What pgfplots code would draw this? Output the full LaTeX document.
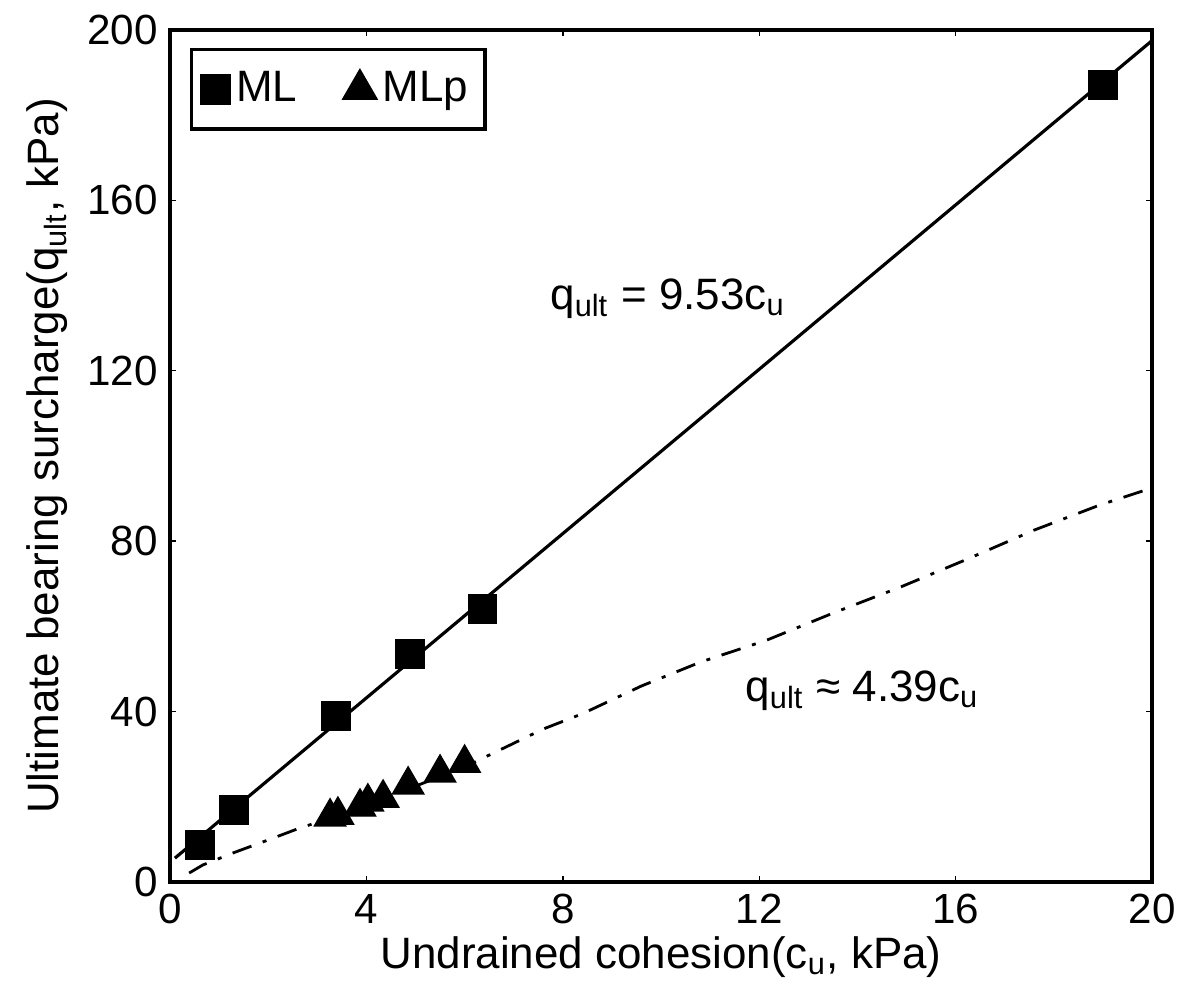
\documentclass[border=0pt]{standalone}
\usepackage{fontspec}
\setmainfont{Liberation Sans}
\usepackage{pgfplots}
\pgfplotsset{compat=1.18}

\begin{document}
\begin{tikzpicture}
\begin{axis}[
  scale only axis, width=9.82cm, height=8.52cm,
  xmin=0, xmax=20, ymin=0, ymax=200,
  xtick={0,4,...,20}, ytick={0,40,...,200},
  /pgf/number format/assume math mode=true,
  tick label style={font=\fontsize{12}{13}\selectfont},
  tick align=inside, major tick length=0.06cm,
  axis line style={line width=0.9pt},
  every tick/.style={black, line width=0.4pt},
  xlabel={Undrained cohesion(c\textsubscript{u}, kPa)},
  ylabel={Ultimate bearing surcharge(q\textsubscript{ult}, kPa)},
  label style={font=\fontsize{12.5}{14}\selectfont},
  xlabel style={yshift=0.12cm},
  ylabel style={yshift=-0.05cm},
  legend columns=2,
  legend style={at={(rel axis cs:0.02,0.979)}, anchor=north west,
    draw=black, line width=0.9pt, font=\fontsize{12.5}{14}\selectfont,
    inner xsep=0.1cm, inner ysep=0.15cm,
    /tikz/every even column/.append style={column sep=0.4cm}},
  legend image code/.code={\draw[#1] plot coordinates {(0.12cm,0cm)};},
  clip=false,
]
% measured points, ML
\addplot[only marks, mark=square*, mark size=0.14cm, black]
coordinates{(0.61,8.7) (1.30,16.9) (3.38,39.0) (4.89,53.5) (6.37,64.1) (19.0,187.1)};
\addlegendentry{ML}
% measured points, MLp
\addplot[only marks, mark=triangle*, mark size=0.18cm, black]
coordinates{(3.26,15.3) (3.42,15.7) (3.87,17.6) (4.03,18.8) (4.34,19.7) (4.85,22.8) (5.50,25.6) (6.0,27.9)};
\addlegendentry{MLp}
% fitted line ML
\addplot[black, line width=0.9pt, forget plot]
coordinates{(0.1,5.6) (20,197.5)};
% fitted line MLp
\addplot[black, line width=0.8pt, forget plot,
  dash pattern=on 0.2cm off 0.12cm on 0.04cm off 0.12cm]
coordinates{(0.39,2.1) (0.67,4.0) (1.28,6.8) (2.1,10.3) (2.65,12.7) (3.5,15.8)
  (5.0,22.5) (6.0,27.0) (7.6,35.9) (8.4,39.5) (9.6,46.0) (10.8,51.6) (12.16,56.8)
  (13.5,63.1) (14.87,69.2) (16.2,75.6) (17.6,82.6) (18.94,88.5) (20,92.5)};
\node[font=\fontsize{12.5}{14}\selectfont] at (axis cs:10.14,137) {q\textsubscript{ult} = 9.53c\textsubscript{u}};
\node[font=\fontsize{12.5}{14}\selectfont] at (axis cs:14.1,45) {q\textsubscript{ult} ≈ 4.39c\textsubscript{u}};
\end{axis}
\path[use as bounding box] (current axis.south west) ++(-1.70cm,-1.24cm)
  rectangle ([shift={(0.44cm,0.30cm)}]current axis.north east);
\end{tikzpicture}
\end{document}
